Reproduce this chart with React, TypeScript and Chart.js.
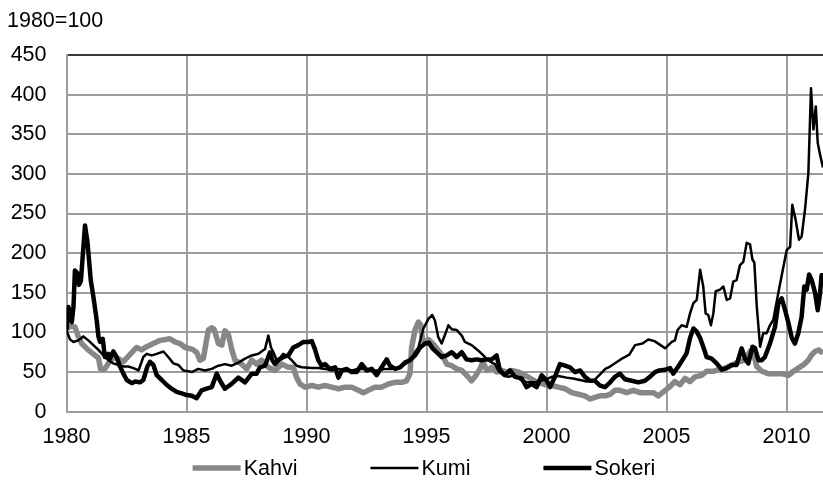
import { useEffect, useRef } from 'react';
import { Chart, registerables } from 'chart.js';

Chart.register(...registerables);

const unitLabel = '1980=100';
const seriesNames = ['Kahvi', 'Kumi', 'Sokeri'];
const xTickYears = [1980, 1985, 1990, 1995, 2000, 2005, 2010];
const yTickValues = [0, 50, 100, 150, 200, 250, 300, 350, 400, 450];

const kahviYears = [
  1980.0, 1980.2, 1980.35, 1980.49, 1980.63, 1980.9, 1981.19, 1981.33, 1981.42, 1981.6, 1981.74, 1981.95,
  1982.16, 1982.37, 1982.58, 1982.92, 1983.13, 1983.34, 1983.62, 1983.9, 1984.31, 1984.52, 1984.73, 1984.94,
  1985.22, 1985.42, 1985.56, 1985.7, 1985.91, 1986.05, 1986.15, 1986.33, 1986.47, 1986.6, 1986.74, 1986.88,
  1987.02, 1987.3, 1987.51, 1987.72, 1987.92, 1988.13, 1988.41, 1988.69, 1988.97, 1989.24, 1989.45, 1989.59,
  1989.73, 1989.94, 1990.22, 1990.49, 1990.77, 1991.05, 1991.33, 1991.6, 1991.88, 1992.16, 1992.37, 1992.58,
  1992.85, 1993.13, 1993.41, 1993.69, 1993.97, 1994.17, 1994.31, 1994.38, 1994.52, 1994.66, 1994.77, 1994.83,
  1994.94, 1995.08, 1995.29, 1995.45, 1995.56, 1995.7, 1995.84, 1996.05, 1996.26, 1996.47, 1996.67, 1996.88,
  1997.02, 1997.23, 1997.35, 1997.51, 1997.72, 1997.92, 1998.13, 1998.34, 1998.55, 1998.83, 1999.1, 1999.38,
  1999.63, 1999.94, 2000.22, 2000.49, 2000.77, 2001.05, 2001.33, 2001.6, 2001.81, 2002.02, 2002.23, 2002.44,
  2002.65, 2002.85, 2003.06, 2003.34, 2003.62, 2003.9, 2004.17, 2004.45, 2004.66, 2004.87, 2005.08, 2005.35,
  2005.56, 2005.77, 2005.98, 2006.19, 2006.47, 2006.67, 2006.95, 2007.16, 2007.44, 2007.72, 2008.0, 2008.27,
  2008.48, 2008.62, 2008.76, 2008.97, 2009.24, 2009.52, 2009.8, 2010.08, 2010.29, 2010.49, 2010.7, 2010.91,
  2011.05, 2011.19, 2011.33, 2011.52,
];
const kahviValues = [
  105, 108, 107, 95, 86, 78, 71, 68, 54, 54, 61, 69,
  67, 63, 70, 81, 78, 82, 86, 90, 92, 88, 86, 81,
  79, 75, 65, 67, 103, 106, 104, 86, 84, 102, 98, 79,
  65, 60, 54, 65, 60, 65, 56, 52, 60, 56, 56, 43,
  35, 31, 33, 31, 33, 31, 29, 31, 31, 27, 24, 27,
  31, 31, 35, 37, 37, 39, 48, 81, 103, 113, 109, 90,
  89, 91, 85, 79, 75, 69, 60, 58, 54, 52, 46, 39,
  44, 54, 63, 52, 56, 50, 52, 50, 52, 50, 46, 41,
  37, 34, 33, 31, 29, 24, 22, 20, 16, 18, 20, 20,
  22, 27, 27, 24, 27, 24, 24, 24, 20, 25, 30, 38,
  34, 42, 38, 44, 46, 51, 51, 53, 55, 59, 63, 65,
  76, 74, 57, 51, 48, 48, 48, 46, 51, 55, 59, 65,
  72, 76, 78, 74,
];

const kumiYears = [
  1980.0, 1980.08, 1980.15, 1980.29, 1980.49, 1980.7, 1980.91, 1981.12, 1981.33, 1981.54, 1981.74, 1981.95,
  1982.16, 1982.37, 1982.58, 1982.79, 1983.0, 1983.2, 1983.34, 1983.55, 1983.76, 1984.04, 1984.24, 1984.45,
  1984.66, 1984.87, 1985.08, 1985.22, 1985.49, 1985.77, 1986.05, 1986.33, 1986.6, 1986.88, 1987.16, 1987.44,
  1987.72, 1988.0, 1988.27, 1988.41, 1988.52, 1988.62, 1988.76, 1988.9, 1989.03, 1989.24, 1989.38, 1989.59,
  1989.8, 1990.22, 1990.49, 1990.77, 1991.05, 1991.33, 1991.6, 1991.88, 1992.16, 1992.44, 1992.72, 1993.0,
  1993.27, 1993.55, 1993.83, 1994.1, 1994.38, 1994.52, 1994.66, 1994.87, 1995.08, 1995.24, 1995.35, 1995.49,
  1995.63, 1995.77, 1995.91, 1996.05, 1996.26, 1996.47, 1996.6, 1996.88, 1997.16, 1997.37, 1997.51, 1997.72,
  1997.85, 1997.99, 1998.2, 1998.41, 1998.69, 1998.97, 1999.24, 1999.52, 1999.73, 1999.94, 2000.22, 2000.5,
  2000.84, 2001.1, 2001.4, 2001.67, 2002.0, 2002.23, 2002.45, 2002.65, 2002.9, 2003.2, 2003.45, 2003.69,
  2004.0, 2004.24, 2004.5, 2004.75, 2004.94, 2005.08, 2005.22, 2005.35, 2005.46, 2005.63, 2005.84, 2005.98,
  2006.12, 2006.26, 2006.4, 2006.53, 2006.63, 2006.74, 2006.85, 2006.95, 2007.05, 2007.23, 2007.37, 2007.51,
  2007.65, 2007.78, 2007.92, 2008.06, 2008.2, 2008.34, 2008.48, 2008.58, 2008.66, 2008.76, 2008.9, 2009.03,
  2009.17, 2009.31, 2009.45, 2009.66, 2009.87, 2010.01, 2010.15, 2010.24, 2010.38, 2010.52, 2010.63, 2010.77,
  2010.91, 2011.02, 2011.12, 2011.22, 2011.3, 2011.4, 2011.52,
];
const kumiValues = [
  103, 96, 91, 88, 90, 95, 90, 84, 78, 71, 65, 61,
  59, 57, 57, 55, 52, 69, 73, 71, 73, 76, 69, 61,
  59, 52, 51, 50, 54, 52, 54, 58, 60, 58, 62, 67,
  71, 73, 79, 96, 81, 75, 65, 68, 73, 69, 65, 58,
  56, 55, 55, 54, 52, 54, 52, 52, 54, 54, 52, 52,
  54, 54, 55, 60, 66, 75, 81, 105, 117, 122, 115, 94,
  86, 97, 109, 104, 103, 96, 88, 84, 77, 71, 66, 62,
  60, 52, 46, 44, 46, 39, 37, 37, 39, 40, 44, 45,
  43, 42, 40, 38, 40, 47, 54, 57, 62, 68, 72, 84,
  86, 91, 89, 84, 80, 84, 88, 90, 103, 109, 107, 124,
  137, 141, 179, 158, 124, 122, 109, 124, 152, 154, 158, 141,
  143, 164, 166, 185, 189, 213, 211, 192, 188, 133, 82, 99,
  99, 109, 116, 150, 183, 204, 208, 261, 242, 217, 221, 255,
  301, 408, 356, 385, 339, 324, 308,
];

const sokeriYears = [
  1980.0, 1980.08, 1980.22, 1980.29, 1980.35, 1980.45, 1980.52, 1980.6, 1980.77, 1980.87, 1981.01, 1981.12,
  1981.26, 1981.33, 1981.4, 1981.51, 1981.6, 1981.74, 1981.81, 1981.95, 1982.09, 1982.23, 1982.37, 1982.51,
  1982.72, 1982.86, 1983.06, 1983.2, 1983.37, 1983.48, 1983.62, 1983.76, 1983.97, 1984.17, 1984.38, 1984.59,
  1984.8, 1985.01, 1985.22, 1985.42, 1985.63, 1985.84, 1986.05, 1986.26, 1986.4, 1986.6, 1986.88, 1987.16,
  1987.44, 1987.72, 1987.92, 1988.06, 1988.27, 1988.48, 1988.58, 1988.69, 1988.83, 1989.03, 1989.24, 1989.45,
  1989.66, 1989.87, 1990.08, 1990.22, 1990.35, 1990.49, 1990.63, 1990.77, 1990.98, 1991.19, 1991.33, 1991.47,
  1991.67, 1991.88, 1992.09, 1992.3, 1992.51, 1992.72, 1992.92, 1993.13, 1993.34, 1993.48, 1993.69, 1993.9,
  1994.1, 1994.31, 1994.52, 1994.73, 1994.94, 1995.1, 1995.25, 1995.42, 1995.63, 1995.84, 1996.05, 1996.26,
  1996.47, 1996.67, 1996.88, 1997.09, 1997.3, 1997.51, 1997.72, 1997.92, 1998.06, 1998.27, 1998.48, 1998.69,
  1998.97, 1999.17, 1999.38, 1999.59, 1999.8, 2000.01, 2000.15, 2000.35, 2000.56, 2000.77, 2000.98, 2001.19,
  2001.4, 2001.6, 2001.81, 2002.02, 2002.23, 2002.44, 2002.65, 2002.85, 2003.06, 2003.27, 2003.55, 2003.83,
  2004.1, 2004.31, 2004.52, 2004.7, 2004.94, 2005.15, 2005.28, 2005.49, 2005.7, 2005.84, 2005.98, 2006.12,
  2006.26, 2006.4, 2006.53, 2006.67, 2006.88, 2007.09, 2007.3, 2007.51, 2007.72, 2007.92, 2008.13, 2008.27,
  2008.41, 2008.58, 2008.69, 2008.83, 2008.97, 2009.1, 2009.31, 2009.52, 2009.66, 2009.8, 2009.94, 2010.08,
  2010.22, 2010.35, 2010.49, 2010.63, 2010.74, 2010.84, 2010.94, 2011.05, 2011.19, 2011.3, 2011.4, 2011.46,
  2011.52,
];
const sokeriValues = [
  103, 132, 113, 132, 178, 175, 160, 165, 235, 215, 166, 145,
  115, 95, 88, 92, 69, 73, 67, 76, 69, 57, 48, 40,
  36, 38, 37, 40, 57, 63, 59, 46, 40, 34, 29, 25,
  23, 21, 20, 17, 27, 29, 31, 48, 39, 29, 35, 43,
  37, 48, 48, 56, 58, 75, 65, 60, 65, 69, 71, 81,
  84, 88, 88, 89, 79, 65, 58, 60, 54, 56, 43, 52,
  54, 50, 50, 60, 52, 54, 46, 56, 66, 58, 54, 56,
  62, 65, 71, 81, 86, 87, 80, 75, 69, 71, 75, 69,
  75, 66, 65, 66, 65, 66, 66, 71, 52, 46, 52, 44,
  42, 31, 35, 31, 46, 39, 31, 44, 60, 58, 56, 50,
  52, 44, 39, 39, 33, 31, 37, 44, 48, 41, 39, 37,
  39, 44, 50, 52, 53, 55, 48, 57, 67, 74, 93, 105,
  101, 93, 82, 69, 67, 61, 53, 55, 59, 59, 80, 67,
  61, 82, 80, 65, 65, 69, 86, 107, 137, 143, 128, 112,
  93, 86, 99, 120, 158, 154, 173, 166, 150, 128, 150, 172,
  172,
];

const FONT_FAMILY = '"Liberation Sans", Arial, Helvetica, sans-serif';
const FONT_SIZE = 21.5;

const toPoints = (xs: number[], ys: number[]) => xs.map((x, i) => ({ x, y: ys[i] }));

const overlayPlugin = {
  id: 'overlayText',
  afterDraw(chart: any) {
    const ctx = chart.ctx as CanvasRenderingContext2D;
    ctx.save();
    ctx.font = `${FONT_SIZE}px ${FONT_FAMILY}`;
    ctx.fillStyle = '#000';
    ctx.textAlign = 'left';
    ctx.textBaseline = 'middle';
    ctx.fillText(unitLabel, 7, 21);

    const items = chart.data.datasets.map((ds: any) => ({
      label: ds.label as string,
      color: ds.borderColor as string,
      width: ds.borderWidth as number,
    }));
    const lineLen = 48;
    const gap = 3;
    const itemGap = 73;
    const widths = items.map((it: any) => lineLen + gap + ctx.measureText(it.label).width);
    const total = widths.reduce((a: number, b: number) => a + b, 0) + itemGap * (items.length - 1);
    let x = 424 - total / 2;
    const y = 468;
    items.forEach((it: any, i: number) => {
      ctx.strokeStyle = it.color;
      ctx.lineWidth = it.width;
      ctx.lineCap = 'butt';
      ctx.beginPath();
      ctx.moveTo(x, y);
      ctx.lineTo(x + lineLen, y);
      ctx.stroke();
      ctx.fillStyle = '#000';
      ctx.fillText(it.label, x + lineLen + gap, y + 1);
      x += widths[i] + itemGap;
    });
    ctx.restore();
  },
};

export default function App() {
  const canvasRef = useRef<HTMLCanvasElement | null>(null);

  useEffect(() => {
    document.body.style.margin = '0';
    const canvas = canvasRef.current;
    if (!canvas) return;
    const gridColor = '#9d9d9d';
    const font = { family: FONT_FAMILY, size: FONT_SIZE };
    const chart = new Chart(canvas, {
      type: 'line',
      data: {
        datasets: [
          {
            label: seriesNames[0],
            data: toPoints(kahviYears, kahviValues),
            borderColor: '#878787',
            borderWidth: 5.5,
            order: 3,
          },
          {
            label: seriesNames[1],
            data: toPoints(kumiYears, kumiValues),
            borderColor: '#000000',
            borderWidth: 2.5,
            order: 2,
          },
          {
            label: seriesNames[2],
            data: toPoints(sokeriYears, sokeriValues),
            borderColor: '#000000',
            borderWidth: 4.5,
            order: 1,
          },
        ],
      },
      options: {
        animation: false,
        responsive: false,
        maintainAspectRatio: false,
        parsing: false as any,
        elements: {
          point: { radius: 0, hoverRadius: 0 },
          line: { tension: 0, borderJoinStyle: 'round', fill: false },
        },
        layout: { autoPadding: false, padding: { left: 10, right: 0, top: 55, bottom: 36.3 } },
        plugins: {
          legend: { display: false },
          tooltip: { enabled: false },
          title: { display: false },
        },
        scales: {
          x: {
            type: 'linear',
            min: xTickYears[0],
            max: 2011.52,
            afterBuildTicks: (scale: any) => {
              scale.ticks = xTickYears.map((v) => ({ value: v }));
            },
            afterFit: (scale: any) => {
              scale.height = 36;
            },
            ticks: {
              autoSkip: false,
              maxRotation: 0,
              font,
              color: '#000',
              padding: 12,
              callback: (v: any) => String(v),
            },
            grid: { color: gridColor, lineWidth: 2, drawTicks: false },
            border: { color: gridColor, width: 2 },
          },
          y: {
            type: 'linear',
            min: yTickValues[0],
            max: yTickValues[yTickValues.length - 1],
            afterBuildTicks: (scale: any) => {
              scale.ticks = yTickValues.map((v) => ({ value: v }));
            },
            afterFit: (scale: any) => {
              scale.width = 56.5;
            },
            ticks: {
              font,
              color: '#000',
              padding: 20,
              callback: (v: any) => String(v),
            },
            grid: {
              color: (c: any) => (c.tick && c.tick.value === 450 ? '#3a3a3a' : gridColor),
              lineWidth: 2,
              drawTicks: false,
            },
            border: { color: gridColor, width: 2 },
          },
        },
      },
      plugins: [overlayPlugin],
    });
    return () => chart.destroy();
  }, []);

  return (
    <div style={{ width: 823, height: 484 }}>
      <canvas ref={canvasRef} width={823} height={484} style={{ display: 'block', width: 823, height: 484 }} />
    </div>
  );
}
